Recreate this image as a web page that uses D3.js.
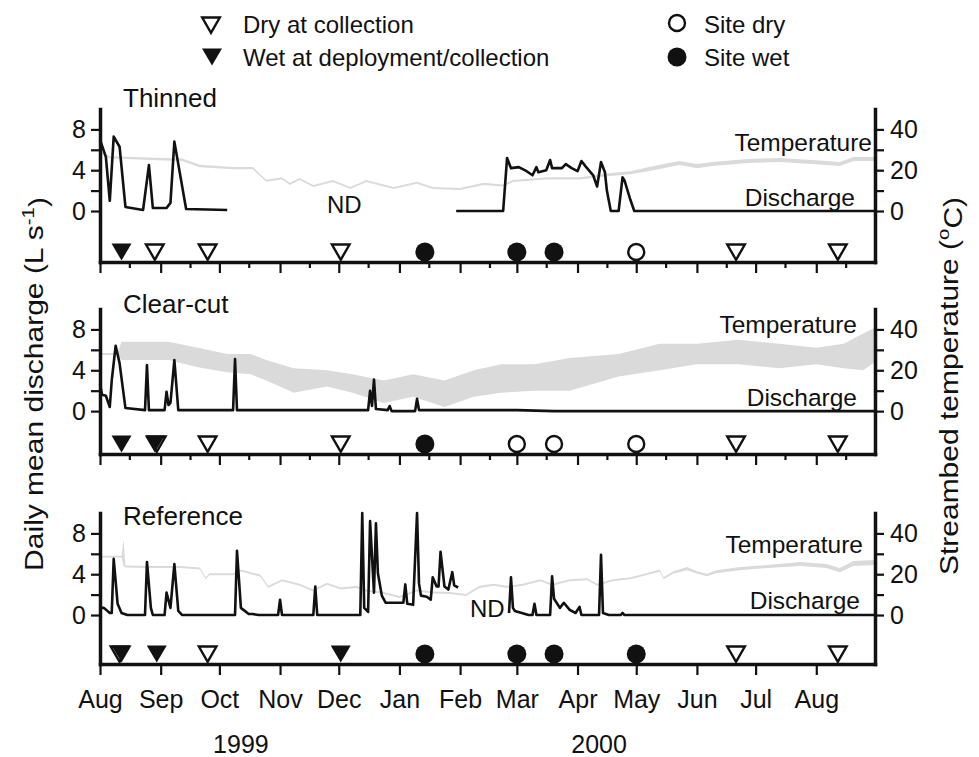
<!DOCTYPE html>
<html>
<head>
<meta charset="utf-8">
<script src="https://cdn.jsdelivr.net/npm/d3@7"></script>
<style>
  body { margin: 0; background: #fff; }
  svg text { font-family: "Liberation Sans", Arial, sans-serif; fill: #111; }
</style>
</head>
<body>
<svg id="vis" width="979" height="757"></svg>
<script>
// ---- data ----
const monthLabels = ["Aug", "Sep", "Oct", "Nov", "Dec", "Jan", "Feb", "Mar", "Apr", "May", "Jun", "Jul", "Aug"];
const yearLabels = [["1999", "1999-10-12"], ["2000", "2000-04-12"]];
const dischargeTicks = [0, 2, 4, 6, 8];
const tempTicks = [0, 10, 20, 30, 40];

// daily mean discharge (L/s), null = no data
const thinnedQ = [
  ["1999-08-01", 7.0], ["1999-08-04", 5.3], ["1999-08-06", 1.0], ["1999-08-08", 7.3], ["1999-08-11", 6.3],
  ["1999-08-14", 0.4], ["1999-08-23", 0.1], ["1999-08-26", 4.5], ["1999-08-28", 0.3], ["1999-09-04", 0.3],
  ["1999-09-06", 0.8], ["1999-09-08", 6.8], ["1999-09-14", 0.2], ["1999-10-05", 0.1], ["1999-10-06", null],
  ["2000-01-30", 0], ["2000-02-23", 0], ["2000-02-25", 5.2], ["2000-02-27", 4.2], ["2000-03-02", 4.3],
  ["2000-03-06", 3.9], ["2000-03-09", 3.5], ["2000-03-11", 4.3], ["2000-03-12", 3.8], ["2000-03-16", 4.0],
  ["2000-03-18", 5.0], ["2000-03-19", 4.2], ["2000-03-24", 4.2], ["2000-03-26", 4.6], ["2000-03-29", 4.2],
  ["2000-04-01", 3.9], ["2000-04-03", 4.9], ["2000-04-05", 4.4], ["2000-04-09", 3.5], ["2000-04-11", 2.4],
  ["2000-04-13", 4.8], ["2000-04-15", 3.8], ["2000-04-16", 2.0], ["2000-04-18", 0], ["2000-04-22", 0],
  ["2000-04-24", 3.3], ["2000-04-25", 3.0], ["2000-04-28", 1.1], ["2000-04-30", 0], ["2000-08-31", 0]
];
const clearcutQ = [
  ["1999-08-01", 2.7], ["1999-08-02", 1.6], ["1999-08-04", 1.5], ["1999-08-06", 0.4], ["1999-08-07", 3.0],
  ["1999-08-09", 6.4], ["1999-08-11", 4.7], ["1999-08-14", 0.3], ["1999-08-24", 0.1], ["1999-08-25", 4.5],
  ["1999-08-26", 0.1], ["1999-09-03", 0.1], ["1999-09-04", 1.9], ["1999-09-05", 0.6], ["1999-09-06", 0.8],
  ["1999-09-08", 5.0], ["1999-09-10", 0.1], ["1999-10-08", 0.1], ["1999-10-09", 5.1], ["1999-10-10", 0.1],
  ["1999-12-16", 0.1], ["1999-12-17", 2.0], ["1999-12-18", 0.5], ["1999-12-19", 3.1], ["1999-12-20", 0.2],
  ["1999-12-26", 0.1], ["1999-12-27", 0.5], ["1999-12-28", 0], ["2000-01-09", 0], ["2000-01-10", 1.2],
  ["2000-01-11", 0.1], ["2000-03-01", 0.1], ["2000-03-20", 0], ["2000-08-31", 0]
];
const referenceQ = [
  ["1999-08-01", 0.7], ["1999-08-03", 0.7], ["1999-08-06", 0.2], ["1999-08-07", 0.2], ["1999-08-08", 5.5],
  ["1999-08-10", 1.1], ["1999-08-12", 0.2], ["1999-08-15", 0], ["1999-08-24", 0], ["1999-08-25", 5.2],
  ["1999-08-27", 0.7], ["1999-08-28", 0], ["1999-09-03", 0], ["1999-09-04", 2.2], ["1999-09-06", 0.7],
  ["1999-09-08", 5.0], ["1999-09-10", 0.4], ["1999-09-12", 0], ["1999-10-09", 0], ["1999-10-10", 6.3],
  ["1999-10-12", 0.7], ["1999-10-16", 0.1], ["1999-10-18", 0.1], ["1999-10-21", 0], ["1999-10-31", 0],
  ["1999-11-01", 1.5], ["1999-11-02", 0], ["1999-11-18", 0], ["1999-11-19", 2.8], ["1999-11-20", 0],
  ["1999-12-12", 0], ["1999-12-13", 10], ["1999-12-14", 0.7], ["1999-12-16", 0.3], ["1999-12-17", 9.2],
  ["1999-12-19", 2.2], ["1999-12-20", 9.0], ["1999-12-21", 4.1], ["1999-12-23", 1.9], ["1999-12-25", 1.2],
  ["2000-01-03", 1.2], ["2000-01-04", 3.0], ["2000-01-05", 1.1], ["2000-01-08", 1.0], ["2000-01-10", 10],
  ["2000-01-11", 3.1], ["2000-01-12", 1.9], ["2000-01-15", 1.8], ["2000-01-17", 1.5], ["2000-01-18", 3.7],
  ["2000-01-20", 2.8], ["2000-01-21", 2.8], ["2000-01-22", 6.2], ["2000-01-24", 2.8], ["2000-01-26", 2.5],
  ["2000-01-28", 4.2], ["2000-01-29", 2.9], ["2000-01-31", 2.7], ["2000-02-01", null],
  ["2000-02-26", 0.2], ["2000-02-27", 3.7], ["2000-02-28", 0.7], ["2000-02-29", 0.4], ["2000-03-07", 0],
  ["2000-03-09", 0], ["2000-03-10", 1.1], ["2000-03-11", 0], ["2000-03-18", 0], ["2000-03-19", 3.8],
  ["2000-03-20", 1.6], ["2000-03-23", 0.7], ["2000-03-25", 1.2], ["2000-03-28", 0.5], ["2000-03-31", 0.2],
  ["2000-04-02", 0.8], ["2000-04-03", 0], ["2000-04-12", 0], ["2000-04-13", 5.9], ["2000-04-14", 0.2],
  ["2000-04-17", 0], ["2000-04-23", 0], ["2000-04-24", 0.2], ["2000-04-25", 0], ["2000-08-31", 0]
];

// streambed temperature (deg C): [date, daily low, daily high]
const thinnedT = [
  ["1999-08-01", 28.3, 29.3], ["1999-08-06", 25.8, 26.8], ["1999-08-26", 25, 26.2], ["1999-09-12", 24.5, 25.7],
  ["1999-09-21", 21.5, 22.7], ["1999-10-08", 20.5, 21.6], ["1999-10-18", 20.5, 21.6], ["1999-10-25", 14.3, 15.3],
  ["1999-11-02", 15.5, 16.6], ["1999-11-06", 12.8, 13.8], ["1999-11-11", 15.2, 16.2], ["1999-11-18", 11.8, 12.8],
  ["1999-11-28", 14.2, 15.2], ["1999-12-07", 10.8, 11.8], ["1999-12-15", 14.2, 15.2], ["1999-12-29", 10.8, 11.8],
  ["2000-01-10", 13.3, 14.3], ["2000-01-18", 10.8, 11.8], ["2000-02-01", 10.3, 11.3], ["2000-02-13", 12.8, 13.8],
  ["2000-02-23", 12, 13], ["2000-02-28", 14.2, 15.2], ["2000-03-16", 15.4, 16.6], ["2000-04-02", 15.4, 16.6],
  ["2000-04-19", 17.3, 18.7], ["2000-04-28", 18, 19.5], ["2000-05-07", 19.5, 21.5], ["2000-05-15", 21, 23],
  ["2000-05-23", 22.5, 24.5], ["2000-06-01", 21, 23], ["2000-06-09", 22, 24], ["2000-06-27", 23.5, 25.5],
  ["2000-07-13", 24, 26], ["2000-07-30", 23, 25], ["2000-08-13", 22, 24], ["2000-08-20", 24.5, 26.5],
  ["2000-08-31", 24.5, 26.5]
];
const clearcutT = [
  ["1999-08-01", 27.5, 28.5], ["1999-08-10", 27.5, 28.5], ["1999-08-12", 25, 34], ["1999-09-05", 25, 34],
  ["1999-09-20", 21.5, 31], ["1999-10-05", 19, 28], ["1999-10-17", 18, 28], ["1999-10-25", 15, 25],
  ["1999-11-08", 9, 21], ["1999-11-25", 12, 20], ["1999-12-08", 9, 18], ["1999-12-24", 4, 15],
  ["2000-01-08", 7, 18], ["2000-01-24", 2, 15], ["2000-02-08", 7, 20], ["2000-02-22", 9, 23],
  ["2000-03-10", 10, 23], ["2000-03-28", 10, 26], ["2000-04-22", 17, 28], ["2000-05-13", 20, 33],
  ["2000-06-01", 23, 33], ["2000-06-22", 23, 35], ["2000-07-13", 21, 33], ["2000-08-01", 23, 31],
  ["2000-08-15", 21, 33], ["2000-08-25", 20, 38], ["2000-08-31", 24, 41]
];
const referenceT = [
  ["1999-08-01", 28.2, 29], ["1999-08-12", 28.2, 29], ["1999-08-13", 24, 37], ["1999-08-14", 23.3, 24.3],
  ["1999-08-26", 23, 24], ["1999-09-11", 23, 24], ["1999-09-21", 22.3, 23.3], ["1999-09-24", 17.5, 18.5],
  ["1999-09-26", 19.5, 20.5], ["1999-10-08", 19.5, 20.5], ["1999-10-12", 21.3, 22.3], ["1999-10-22", 18.8, 19.8],
  ["1999-10-26", 13.3, 14.3], ["1999-11-02", 16.5, 17.5], ["1999-11-11", 14.3, 15.3], ["1999-11-18", 11.5, 12.5],
  ["1999-11-25", 14.8, 15.8], ["1999-12-02", 12.5, 13.5], ["1999-12-10", 13.3, 14.3], ["1999-12-15", 11.5, 12.5],
  ["1999-12-24", 10.3, 11.3], ["2000-01-01", 8.3, 9.3], ["2000-01-10", 11.5, 12.5], ["2000-01-18", 10.5, 11.5],
  ["2000-01-27", 10.3, 11.3], ["2000-02-04", 9.3, 10.3], ["2000-02-11", 13.3, 14.3], ["2000-02-18", 14.3, 15.3],
  ["2000-02-25", 13.3, 14.3], ["2000-03-04", 14.3, 15.3], ["2000-03-13", 16.5, 17.5], ["2000-03-19", 14.3, 15.3],
  ["2000-03-28", 16.5, 17.5], ["2000-04-06", 17, 18], ["2000-04-11", 14.3, 15.3], ["2000-04-19", 16.5, 17.5],
  ["2000-04-28", 17.5, 18.5], ["2000-05-06", 19.5, 20.5], ["2000-05-13", 21.2, 22.3], ["2000-05-15", 17.5, 18.5],
  ["2000-05-20", 20.3, 21.5], ["2000-05-27", 22, 23.5], ["2000-06-01", 20.3, 21.5], ["2000-06-06", 19, 20.2],
  ["2000-06-11", 20.5, 22], ["2000-06-23", 22, 23.5], ["2000-07-07", 23, 24.5], ["2000-07-24", 24, 26],
  ["2000-08-06", 23, 25], ["2000-08-13", 21, 23], ["2000-08-20", 24, 26.5], ["2000-08-31", 24.5, 27]
];

// site visits: wet/dry = triangles, siteWet/siteDry = circles
const thinnedVisits = [
  ["1999-08-12", "wet"], ["1999-08-29", "dry"], ["1999-09-25", "dry"], ["1999-12-02", "dry"],
  ["2000-01-14", "siteWet"], ["2000-03-01", "siteWet"], ["2000-03-20", "siteWet"], ["2000-05-01", "siteDry"],
  ["2000-06-21", "dry"], ["2000-08-12", "dry"]
];
const clearcutVisits = [
  ["1999-08-12", "wet"], ["1999-08-30", "dry"], ["1999-08-29", "wet"], ["1999-09-25", "dry"], ["1999-12-02", "dry"],
  ["2000-01-14", "siteWet"], ["2000-03-01", "siteDry"], ["2000-03-20", "siteDry"], ["2000-05-01", "siteDry"],
  ["2000-06-21", "dry"], ["2000-08-12", "dry"]
];
const referenceVisits = [
  ["1999-08-11", "dry"], ["1999-08-12", "wet"], ["1999-08-30", "wet"], ["1999-09-25", "dry"], ["1999-12-02", "wet"],
  ["2000-01-14", "siteWet"], ["2000-03-01", "siteWet"], ["2000-03-20", "siteWet"], ["2000-05-01", "siteWet"],
  ["2000-06-21", "dry"], ["2000-08-12", "dry"]
];

const legendItems = [
  ["dry", "Dry at collection"], ["wet", "Wet at deployment/collection"],
  ["siteDry", "Site dry"], ["siteWet", "Site wet"]
];

// ---- layout ----
var svg = d3.select("svg#vis");
var parse = d3.timeParse("%Y-%m-%d");
var ink = "#111";

var panels = [
  { title: "Thinned", q: thinnedQ, t: thinnedT, visits: thinnedVisits,
    top: 109, bottom: 262, qMin: -5, minor: true, titleY: 107,
    tempLab: [872, 151], qLab: [855, 206], nd: "1999-11-25" },
  { title: "Clear-cut", q: clearcutQ, t: clearcutT, visits: clearcutVisits,
    top: 309, bottom: 454, qMin: -4.2, minor: true, titleY: 313,
    tempLab: [857, 333], qLab: [857, 406], nd: null },
  { title: "Reference", q: referenceQ, t: referenceT, visits: referenceVisits,
    top: 513, bottom: 664, qMin: -4.8, minor: false, titleY: 525,
    tempLab: [863, 553], qLab: [860, 609], nd: "2000-02-06" }
];

var x = d3.scaleTime()
  .domain([parse("1999-08-01"), parse("2000-08-31")])
  .range([100, 875]);

var monthTicks = d3.timeMonth.range(parse("1999-08-01"), parse("2000-08-02"));
var midTicks = monthTicks.map(d => d3.timeDay.offset(d, 15));

function drawMarker(sel, type) {
  if (type == "wet") {
    sel.append("path").attr("d", "M-10,-8.5L10,-8.5L0,8.5Z").attr("fill", ink);
  } else if (type == "dry") {
    sel.append("path").attr("d", "M-8.8,-7.5L8.8,-7.5L0,7.8Z")
      .attr("fill", "#fff").attr("stroke", ink).attr("stroke-width", 2.4).attr("stroke-linejoin", "miter");
  } else if (type == "siteWet") {
    sel.append("circle").attr("r", 9.5).attr("fill", ink);
  } else {
    sel.append("circle").attr("r", 8).attr("fill", "#fff").attr("stroke", ink).attr("stroke-width", 2.4);
  }
}

function styleAxis(g) {
  g.select(".domain").attr("stroke", ink).attr("stroke-width", 3.5).attr("stroke-linecap", "square");
  g.selectAll(".tick line").attr("stroke", ink).attr("stroke-width", 2.2);
  g.selectAll(".tick text").attr("font-size", 25).attr("fill", ink)
    .style("font-family", "'Liberation Sans', Arial, sans-serif");
}

panels.forEach(function(p) {
  var y = d3.scaleLinear().domain([p.qMin, 10]).range([p.bottom, p.top]);
  var yT = d3.scaleLinear().domain([p.qMin * 5, 50]).range([p.bottom, p.top]);
  var g = svg.append("g");

  // temperature (light grey diel band)
  g.append("path")
    .datum(p.t)
    .attr("d", d3.area()
      .x(d => x(parse(d[0])))
      .y0(d => yT(d[1]))
      .y1(d => yT(d[2])))
    .attr("fill", "#dadada");

  // discharge
  g.append("path")
    .datum(p.q)
    .attr("d", d3.line()
      .defined(d => d[1] !== null)
      .x(d => x(parse(d[0])))
      .y(d => y(d[1])))
    .attr("fill", "none")
    .attr("stroke", ink)
    .attr("stroke-width", 2.6)
    .attr("stroke-linejoin", "round");

  // visit markers
  g.selectAll("g.visit")
    .data(p.visits)
    .enter()
    .append("g")
    .attr("class", "visit")
    .attr("transform", d => translate(x(parse(d[0])), p.bottom - 10))
    .each(function(d) { drawMarker(d3.select(this), d[1]); });

  // axes
  var left = g.append("g").attr("transform", translate(100, 0))
    .call(d3.axisLeft(y).tickValues(dischargeTicks).tickSize(9).tickSizeOuter(0).tickPadding(5)
      .tickFormat(d => d % 4 == 0 ? d : ""));
  styleAxis(left);

  var right = g.append("g").attr("transform", translate(875, 0))
    .call(d3.axisRight(yT).tickValues(tempTicks).tickSize(9).tickSizeOuter(0).tickPadding(6)
      .tickFormat(d => d % 20 == 0 ? d : ""));
  styleAxis(right);

  if (p.minor) {
    var minor = g.append("g").attr("transform", translate(0, p.bottom))
      .call(d3.axisBottom(x).tickValues(midTicks).tickSize(6).tickFormat(""));
    minor.select(".domain").remove();
    styleAxis(minor);
  }
  var bottom = g.append("g").attr("transform", translate(0, p.bottom))
    .call(d3.axisBottom(x).tickValues(monthTicks).tickSize(11).tickSizeOuter(0).tickPadding(15)
      .tickFormat((d, i) => p.minor ? "" : monthLabels[i]));
  styleAxis(bottom);

  // labels
  g.append("text").attr("x", 123).attr("y", p.titleY).attr("font-size", 26).text(p.title);
  g.append("text").attr("x", p.tempLab[0]).attr("y", p.tempLab[1]).attr("text-anchor", "end")
    .attr("font-size", 24.5).text("Temperature");
  g.append("text").attr("x", p.qLab[0]).attr("y", p.qLab[1]).attr("text-anchor", "end")
    .attr("font-size", 24.5).text("Discharge");
  if (p.nd) {
    g.append("text").attr("x", x(parse(p.nd))).attr("y", y(0) + 2).attr("font-size", 24).text("ND");
  }
});

// years under the month labels
svg.selectAll("text.year")
  .data(yearLabels)
  .enter()
  .append("text")
  .attr("class", "year")
  .attr("x", d => x(parse(d[1])))
  .attr("y", 753)
  .attr("text-anchor", "middle")
  .attr("font-size", 25)
  .text(d => d[0]);

// axis titles (rotated)
var yl = svg.append("text")
  .attr("transform", "translate(43,384) rotate(-90) scale(1.2,1)")
  .attr("text-anchor", "middle")
  .attr("font-size", 25);
yl.append("tspan").text("Daily mean discharge (L s");
yl.append("tspan").attr("dy", "-0.55em").attr("font-size", 17).text("-1");
yl.append("tspan").attr("dy", "0.55em").text(")");

var yr = svg.append("text")
  .attr("transform", "translate(958,386) rotate(-90) scale(1.2,1)")
  .attr("text-anchor", "middle")
  .attr("font-size", 25);
yr.append("tspan").text("Streambed temperature (");
yr.append("tspan").attr("dy", "-0.55em").attr("font-size", 17).text("o");
yr.append("tspan").attr("dy", "0.55em").text("C)");

// legend
var legendPos = { dry: [211, 25, 243, 33], wet: [212, 57, 243, 66], siteDry: [677, 23, 704, 33], siteWet: [677, 57, 704, 66] };
var leg = svg.append("g").selectAll("g")
  .data(legendItems)
  .enter()
  .append("g");
leg.append("g")
  .attr("transform", d => translate(legendPos[d[0]][0], legendPos[d[0]][1]))
  .each(function(d) { drawMarker(d3.select(this), d[0]); });
leg.append("text")
  .attr("x", d => legendPos[d[0]][2])
  .attr("y", d => legendPos[d[0]][3])
  .attr("font-size", 24)
  .text(d => d[1]);

function translate(x, y) {
  return "translate(" + String(x) + "," + String(y) + ")";
}
</script>
</body>
</html>
